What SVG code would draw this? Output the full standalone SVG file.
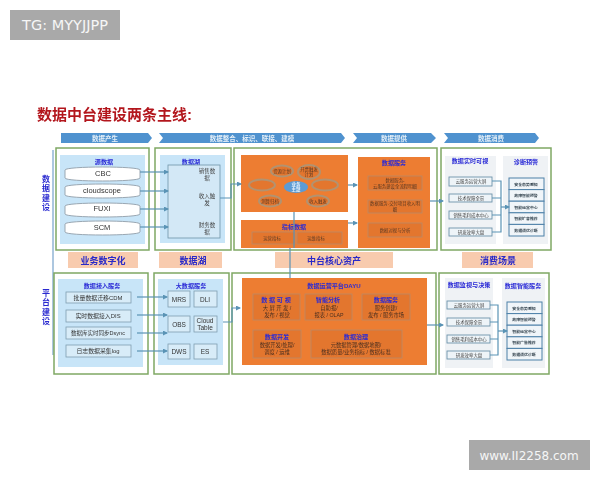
<svg xmlns="http://www.w3.org/2000/svg" width="600" height="480" viewBox="0 0 600 480">
<style>
text{font-family:"Liberation Sans","Noto Sans CJK SC",sans-serif;text-anchor:middle}
.wm{fill:#a9a9a9}
.wmt{fill:#f6f6f6;font-family:"DejaVu Sans",sans-serif}
.hdr{fill:#4f92cf}
.hdt{fill:#e6f0f8;font-size:6.5px;font-weight:700}
.grn{fill:#fff;stroke:#7fa863;stroke-width:1.5}
.lb{fill:#c8e5f8}
.pink{fill:#f8cbae}
.pt{fill:#2b2bc8;font-size:9px;font-weight:700}
.bt{fill:#2a2ad6;font-size:6.1px;font-weight:700}
.org{fill:#ed7d31}
.sub{fill:#e3762f;stroke:#b98a66;stroke-width:.8}
.ot{fill:#5b3a24;font-size:4.4px}
.ot2{fill:#4a2f20;font-size:5.3px}
.el{fill:#e3762f;stroke:#b3926f;stroke-width:2}
.cyl{fill:#fff;stroke:#9aa7b2;stroke-width:1}
.cyt{fill:#333;font-size:7.5px}
.box{fill:#d3e8f6;stroke:#6f95a8;stroke-width:.8}
.bw{fill:#d8ecf8;stroke:#7f9fb0;stroke-width:.8}
.dk{fill:#444;font-size:4.4px}
.dl{fill:#444;font-size:5.5px}
.dk2{fill:#333;font-size:6.5px}
.gp{fill:#eff2f5}
.it{fill:#eef4f8;stroke:#6e93ab;stroke-width:.9}
.ln{fill:#f0f5f9;stroke:#4d80a8;stroke-width:1}
.sm{fill:#3a4a55;font-size:3.9px;font-weight:700}
.vt{font-size:8px;font-weight:700;fill:#2a2ad0}
.cn{fill:none;stroke:#5a93b5;stroke-width:1.2}
.ca{fill:none;stroke:#5a93b5;stroke-width:1.2;marker-end:url(#a)}
</style>
<defs>
<marker id="a" markerWidth="5" markerHeight="5" refX="4" refY="2.5" orient="auto" markerUnits="userSpaceOnUse"><path d="M0 0L5 2.5L0 5z" fill="#5a93b5"/></marker>
<filter id="s" x="-2%" y="-2%" width="104%" height="104%"><feGaussianBlur stdDeviation="0.3"/></filter>
</defs>

<g id="watermark-tg"><rect class="wm" x="10" y="10" width="110" height="30"/><text class="wmt" style="font-size:14.5px" x="65" y="30">TG: MYYJJPP</text></g>
<g id="watermark-url"><rect class="wm" x="469" y="440" width="121" height="30"/><text class="wmt" style="font-size:12px" x="529" y="460">www.II2258.com</text></g>

<g filter="url(#s)">
<g id="title"><text x="37" y="120" style="text-anchor:start;font-size:15px;font-weight:700;fill:#b3171f">数据中台建设两条主线:</text></g>

<g id="phases">
<path class="hdr" d="M61 133H148L152 138L148 143H61z"/><text class="hdt" x="105" y="140.5">数据产生</text>
<path class="hdr" d="M159 133H341L345 138L341 143H159L163 138z"/><text class="hdt" x="252" y="140.5">数据整合、标识、联接、建模</text>
<path class="hdr" d="M353 133H431L436 138L431 143H353L357 138z"/><text class="hdt" x="394" y="140.5">数据提供</text>
<path class="hdr" d="M444 133H535L539 138L535 143H444L448 138z"/><text class="hdt" x="491" y="140.5">数据消费</text>
</g>

<g id="axis">
<path d="M53 150V355" fill="none" stroke="#5a8fc0" stroke-width="1"/>
<text class="vt" x="46" y="182">数</text><text class="vt" x="46" y="191.4">据</text><text class="vt" x="46" y="200.8">建</text><text class="vt" x="46" y="210.2">设</text>
<text class="vt" x="46" y="296">平</text><text class="vt" x="46" y="305.4">台</text><text class="vt" x="46" y="314.8">建</text><text class="vt" x="46" y="324.2">设</text>
</g>

<g id="top-source">
<rect class="grn" x="56" y="148" width="93" height="102"/>
<rect class="lb" x="60" y="155" width="85" height="89"/>
<text class="bt" x="104" y="164">源数据</text>
<path class="cyl" d="M65 170C65 166 140 166 140 170V178C140 182 65 182 65 178z"/><text class="cyt" x="103" y="176">CBC</text>
<path class="cyl" d="M65 187C65 183 140 183 140 187V195C140 199 65 199 65 195z"/><text class="cyt" x="102" y="193">cloudscope</text>
<path class="cyl" d="M65 206C65 202 140 202 140 206V214C140 218 65 218 65 214z"/><text class="cyt" x="102" y="211">FUXI</text>
<path class="cyl" d="M65 224C65 220 140 220 140 224V232C140 236 65 236 65 232z"/><text class="cyt" x="102" y="230">SCM</text>
</g>

<g id="top-lake">
<rect class="grn" x="155" y="148" width="76" height="102"/>
<rect class="lb" x="160" y="155" width="65" height="88"/>
<text class="bt" x="191" y="164">数据湖</text>
<rect class="box" x="168" y="165" width="52" height="73"/>
<text class="dl" x="207" y="173">销售数</text><text class="dl" x="207" y="180">据</text>
<text class="dl" x="207" y="198">收入触</text><text class="dl" x="207" y="205">发</text>
<text class="dl" x="207" y="227">财务数</text><text class="dl" x="207" y="234">据</text>
</g>

<g id="top-core">
<rect class="grn" x="234" y="148" width="203" height="102"/>
<rect class="org" x="241" y="155" width="107" height="57"/>
<ellipse class="el" cx="282" cy="171" rx="11" ry="5.5"/><text class="ot" x="282" y="172.5">资源计划</text>
<ellipse class="el" cx="309" cy="172" rx="11" ry="7"/><text class="ot" x="309" y="170.5">开票触发</text><text class="ot" x="309" y="176">计划</text>
<ellipse class="el" cx="262" cy="185" rx="13" ry="5.5"/>
<ellipse class="el" cx="325" cy="185" rx="13" ry="5.5"/>
<ellipse cx="296" cy="187" rx="12" ry="6" fill="#5b9bd5"/><text x="296" y="186" style="font-size:4.4px;font-weight:700;fill:#e8f2fa">业务</text><text x="296" y="191" style="font-size:4.4px;font-weight:700;fill:#e8f2fa">主题</text>
<ellipse class="el" cx="270" cy="201" rx="11" ry="5.5"/><text class="ot" x="270" y="202.5">测算归档</text>
<ellipse class="el" cx="318" cy="201" rx="11" ry="5.5"/><text class="ot" x="318" y="202.5">收入触发</text>
</g>

<g id="top-metrics">
<rect class="org" x="241" y="220" width="107" height="28"/>
<text class="bt" x="294" y="229">指标数据</text>
<rect class="sub" x="252" y="232" width="43" height="12"/><text class="ot" x="272" y="240">运营指标</text>
<rect class="sub" x="297" y="232" width="45" height="12"/><text class="ot" x="316" y="240">运维指标</text>
</g>

<g id="top-service">
<rect class="org" x="358" y="157" width="72" height="91"/>
<text class="bt" x="394" y="165">数据服务</text>
<rect class="sub" x="368" y="176" width="54" height="14"/><text class="ot" x="395" y="181.5">数据服务-</text><text class="ot" x="395" y="187.5">云服务建设全流程明细</text>
<rect class="sub" x="368" y="200" width="54" height="13"/><text class="ot" x="395" y="205">数据服务-交付项目收入明</text><text class="ot" x="395" y="210.5">细</text>
<rect class="sub" x="368" y="223" width="54" height="14"/><text class="ot" x="395" y="231.5">数据对视与分析</text>
</g>

<g id="top-consume">
<rect class="grn" x="441" y="148" width="110" height="102"/>
<rect class="gp" x="445" y="156" width="51" height="88"/>
<rect class="gp" x="503" y="156" width="45" height="88"/>
<text class="bt" x="470" y="163">数据实时可视</text>
<text class="bt" x="526" y="164">诊断预警</text>
<rect class="it" x="449" y="177" width="43" height="9"/><text class="dk" x="471" y="183">云服务运营大屏</text>
<rect class="it" x="449" y="194" width="43" height="8"/><text class="dk" x="471" y="199.5">技术保障全景</text>
<rect class="it" x="449" y="211" width="43" height="8"/><text class="dk" x="471" y="216.5">销售毛利成本中心</text>
<rect class="it" x="449" y="228" width="43" height="8"/><text class="dk" x="471" y="233.5">研发效率大盘</text>
<rect class="ln" x="509" y="178" width="35" height="11.6"/><text class="sm" x="526" y="185.5">安全态势感知</text>
<rect class="ln" x="509" y="189.6" width="35" height="11.6"/><text class="sm" x="526" y="197">故障智能预警</text>
<rect class="ln" x="509" y="201.2" width="35" height="11.6"/><text class="sm" x="526" y="208.6">智能运营中心</text>
<rect class="ln" x="509" y="212.8" width="35" height="11.6"/><text class="sm" x="526" y="220">智能扩容推荐</text>
<rect class="ln" x="509" y="224.4" width="35" height="11.6"/><text class="sm" x="526" y="231.8">数据调优诊断</text>
</g>

<g id="pink-labels">
<rect class="pink" x="68" y="252" width="70" height="16"/><text class="pt" x="103" y="263.5">业务数字化</text>
<rect class="pink" x="159" y="252" width="63" height="16"/><text class="pt" x="193" y="263.5">数据湖</text>
<rect class="pink" x="275" y="252" width="118" height="16"/><text class="pt" x="334" y="263.5">中台核心资产</text>
<rect class="pink" x="462" y="252" width="71" height="16"/><text class="pt" x="498" y="263.5">消费场景</text>
</g>

<g id="bottom-ingest">
<rect class="grn" x="54" y="273" width="94" height="101"/>
<rect class="lb" x="58" y="279" width="85" height="88"/>
<text class="bt" x="102" y="288">数据接入服务</text>
<rect class="bw" x="66" y="292" width="65" height="11"/><text class="dk2" style="font-size:5.9px" x="98" y="300">批量数据迁移CDM</text>
<rect class="bw" x="66" y="310" width="65" height="12"/><text class="dk2" style="font-size:5.9px" x="98" y="318">实时数据接入DIS</text>
<rect class="bw" x="66" y="327" width="65" height="12"/><text class="dk2" style="font-size:5.5px" x="98" y="335">数据库实时同步Dsync</text>
<rect class="bw" x="66" y="345" width="65" height="12"/><text class="dk2" style="font-size:5.9px" x="98" y="353">日志数据采集log</text>
</g>

<g id="bottom-bigdata">
<rect class="grn" x="154" y="273" width="75" height="101"/>
<rect class="lb" x="158" y="279" width="65" height="86"/>
<text class="bt" x="191" y="288">大数据服务</text>
<rect class="bw" x="168" y="291" width="22" height="16"/><text class="dk2" x="179" y="301.5">MRS</text>
<rect class="bw" x="194" y="291" width="23" height="16"/><text class="dk2" x="205" y="301.5">DLI</text>
<rect class="bw" x="168" y="316" width="22" height="16"/><text class="dk2" x="179" y="326.5">OBS</text>
<rect class="bw" x="194" y="316" width="23" height="16"/><text class="dk2" x="205" y="323">Cloud</text><text class="dk2" x="205" y="330">Table</text>
<rect class="bw" x="168" y="344" width="22" height="15"/><text class="dk2" x="179" y="354">DWS</text>
<rect class="bw" x="194" y="344" width="23" height="15"/><text class="dk2" x="205" y="354">ES</text>
</g>

<g id="bottom-core">
<rect class="grn" x="232" y="273" width="204" height="101"/>
<rect class="org" x="242" y="278" width="185" height="87"/>
<text class="bt" x="334" y="288">数据运营平台DAYU</text>
<rect class="sub" x="253" y="294" width="47" height="26"/>
<text class="bt" x="276" y="302">数 据 可 视</text><text class="ot2" x="277" y="309.5">大 屏 开 发 /</text><text class="ot2" x="277" y="316.5">发布 / 视觉</text>
<rect class="sub" x="305" y="294" width="47" height="26"/>
<text class="bt" x="328" y="302">智能分析</text><text class="ot2" x="329" y="309.5">自助报/</text><text class="ot2" x="329" y="316.5">报表 / OLAP</text>
<rect class="sub" x="362" y="294" width="48" height="26"/>
<text class="bt" x="386" y="302">数据服务</text><text class="ot2" x="386" y="309.5">服务创建/</text><text class="ot2" x="386" y="316.5">发布 / 服务市场</text>
<rect class="sub" x="253" y="330" width="48" height="28"/>
<text class="bt" x="277" y="339">数据开发</text><text class="ot2" x="277" y="346.5">数据开发/处理/</text><text class="ot2" x="277" y="353.5">调度 / 运维</text>
<rect class="sub" x="311" y="330" width="91" height="28"/>
<text class="bt" x="356" y="339">数据治理</text><text class="ot2" x="356" y="346.5">元数据管理/数据地图/</text><text class="ot2" x="356" y="353.5">数据质量/业务指标 / 数据标准</text>
</g>

<g id="bottom-consume">
<rect class="grn" x="439" y="273" width="110" height="101"/>
<rect class="gp" x="445" y="278" width="48" height="90"/>
<rect class="gp" x="502" y="278" width="43" height="90"/>
<text class="bt" x="469" y="287">数据监视与决策</text>
<text class="bt" x="523" y="288">数据智能服务</text>
<rect class="it" x="447" y="301" width="43" height="8"/><text class="dk" x="469" y="306.5">云服务运营大屏</text>
<rect class="it" x="447" y="318" width="43" height="8"/><text class="dk" x="469" y="323.5">技术保障全景</text>
<rect class="it" x="447" y="335" width="43" height="8"/><text class="dk" x="469" y="340.5">销售毛利成本中心</text>
<rect class="it" x="447" y="351" width="43" height="8"/><text class="dk" x="469" y="356.5">研发效率大盘</text>
<rect class="ln" x="507" y="302" width="35" height="11.6"/><text class="sm" x="524" y="309.5">安全态势感知</text>
<rect class="ln" x="507" y="313.6" width="35" height="11.6"/><text class="sm" x="524" y="321">故障智能预警</text>
<rect class="ln" x="507" y="325.2" width="35" height="11.6"/><text class="sm" x="524" y="332.6">智能运营中心</text>
<rect class="ln" x="507" y="336.8" width="35" height="11.6"/><text class="sm" x="524" y="344">智能广告推荐</text>
<rect class="ln" x="507" y="348.4" width="35" height="11.6"/><text class="sm" x="524" y="355.8">数据调优诊断</text>
</g>

<g id="connectors">
<path class="ca" d="M140 172H168"/><path class="ca" d="M140 191H168"/><path class="ca" d="M140 209H168"/><path class="ca" d="M140 227H168"/>
<path class="ca" d="M137 297H167"/><path class="ca" d="M137 315H167"/><path class="ca" d="M137 333H167"/><path class="ca" d="M137 351H167"/>
<path class="ca" d="M220 198H231V184H241"/>
<path class="ca" d="M223 322H232V308H240"/>
<path class="cn" d="M294 212V248"/><path class="cn" d="M290 248V278"/>
<path class="ca" d="M348 185H357"/><path class="ca" d="M348 223H357"/>
<path class="ca" d="M430 201H443"/><path class="ca" d="M427 325H443"/>
<path class="cn" d="M492 181H501V232H492M492 198H501M492 215H501"/><path class="ca" d="M501 207H509"/>
<path class="cn" d="M490 305H498V355H490M490 322H498M490 339H498"/><path class="ca" d="M498 331H507"/>
</g>
</g>
</svg>
